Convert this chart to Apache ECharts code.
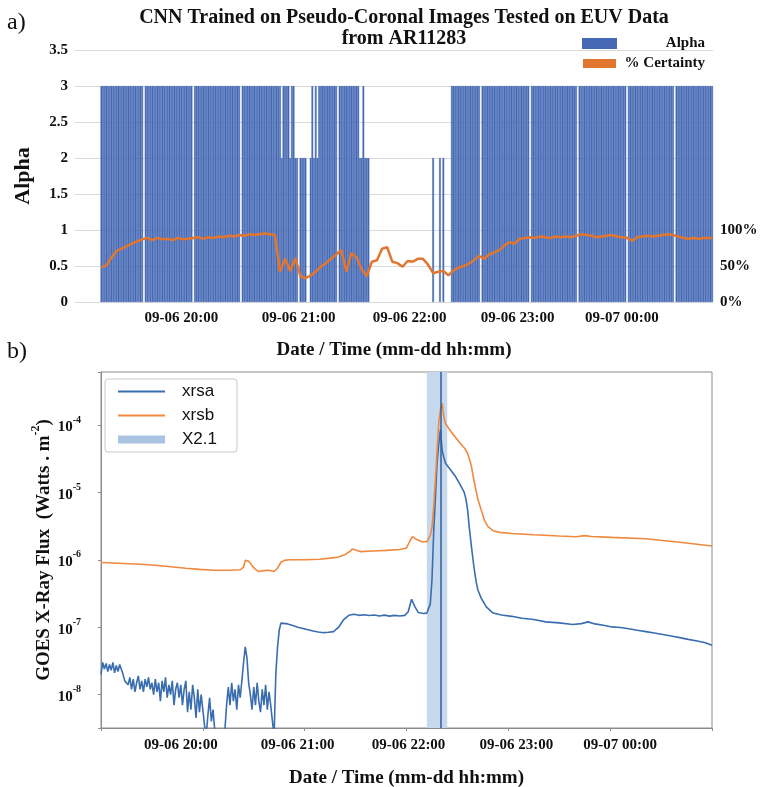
<!DOCTYPE html>
<html><head><meta charset="utf-8">
<script src="https://cdn.jsdelivr.net/npm/echarts@6/dist/echarts.min.js"></script>
<style>html,body{margin:0;padding:0;background:#fff}#c{width:763px;height:787px}</style>
</head><body><div id="c"></div>
<script>
// ---------- shared tick labels (minutes after 09-06 19:00) ----------
const hourTickMinutes = [60, 120, 180, 240, 300];
const hourTickLabels = ['09-06 20:00', '09-06 21:00', '09-06 22:00', '09-06 23:00', '09-07 00:00'];

// ---------- panel a) : one alpha value per minute, 19:00 .. 00:59 ----------
const leadMinutes = 15; // empty categories before the first image (18:45..18:59)
const alphaValues = [
 3,3,3,3,3,3,3,3,3,3, 3,3,3,3,3,3,3,3,3,3, 3,3,3,3,3,0,3,3,3,3,
 3,3,3,3,3,3,3,3,3,3, 3,3,3,3,3,3,3,3,3,3, 3,3,3,3,0,3,3,3,3,3,
 3,3,3,3,3,3,3,3,3,3, 3,3,3,3,3,3,3,3,3,3, 3,3,0,3,3,3,3,3,3,3,
 3,3,3,3,3,3,3,3,3,3, 3,3,3,3,3,3,2,3,3,3, 3,2,3,3,2,2,0,2,2,2,
 2,0,0,2,3,2,3,2,3,3, 3,3,3,3,3,3,3,3,3,0, 3,3,3,3,3,3,3,3,3,3,
 3,3,2,2,3,2,2,2,0,0, 0,0,0,0,0,0,0,0,0,0, 0,0,0,0,0,0,0,0,0,0,
 0,0,0,0,0,0,0,0,0,0, 0,0,0,0,0,2,0,0,0,2, 0,2,0,0,0,0,3,3,3,3,
 3,3,3,3,3,3,3,3,3,3, 3,3,3,0,3,3,3,3,3,3, 3,3,3,3,3,3,3,3,3,3,
 3,3,3,3,3,3,3,3,3,3, 3,3,0,3,3,3,3,3,3,3, 3,3,3,3,3,3,3,3,3,3,
 3,3,3,3,3,3,3,3,3,3, 0,3,3,3,3,3,3,3,3,3, 3,3,3,3,3,3,3,3,3,3,
 3,3,3,3,3,3,3,3,3,0, 3,3,3,3,3,3,3,3,3,3, 3,3,3,3,3,3,3,3,3,3,
 3,3,3,3,3,3,3,0,3,3, 3,3,3,3,3,3,3,3,3,3, 3,3,3,3,3,3,3,3,3,3
];
// % certainty, sampled every 3 minutes from 19:00, last sample at 00:59
const certaintyStep = 3;
const certaintyValues = [
 48,51,62,71,74,78,81,84,87,89,
 86,89,87,88,86,89,87,88,89,90,
 88,90,89,91,90,92,91,93,92,94,
 93,94,95,94,93,42,60,43,61,36,
 33,37,42,49,54,60,66,72,42,68,
 62,45,36,56,58,74,76,56,54,49,
 57,56,60,60,52,40,42,43,37,44,
 48,50,53,58,64,60,66,69,72,79,
 83,81,88,89,90,89,91,90,89,91,
 90,91,90,92,94,93,92,90,91,92,
 93,91,90,89,85,90,91,92,91,92,
 93,94,93,91,89,88,89,88,89,89
];
const certaintyLast = [359, 89];

// ---------- panel b) : GOES fluxes (minutes after 19:00, W m^-2) ----------
const xrsaTime = [
 0,1,2,3,4,5,6,7,8,9,10,11,12,13,14,15,16,17,18,19,20,21,22,23,24,25,26,27,28,29,
 30,31,32,33,34,35,36,37,38,39,40,41,42,43,44,45,46,47,48,49,50,51,52,53,54,55,56,57,58,59,
 60,61,62,63,64,65,66,67,68,69,70,71,72,73,74,75,76,77,78,79,80,81,82,83,84,85,86,87,88,89,
 90,91,92,93,94,95,96,97,98,99,100,101,102,103,104,105,106,107,
 110,113,116,119,122,125,128,131,134,137,140,143,146,149,152,155,158,161,164,167,170,173,176,179,
 181,183,185,187,190,192,194,195,196,197,198,199,200,201,202,203,206,209,212,214,215,216,217,218,219,220,221,222,224,227,
 231,236,242,248,255,262,270,278,283,287,291,296,301,306,311,316,321,326,331,336,341,346,352,356,360
];
const xrsaFlux = [
 2.0e-8,3.0e-8,2.4e-8,2.9e-8,2.2e-8,2.8e-8,2.3e-8,3.0e-8,2.1e-8,2.7e-8,2.2e-8,2.8e-8,2.9e-8,2.0e-8,1.6e-8,1.7e-8,
 1.4e-8,1.8e-8,1.2e-8,1.7e-8,1.1e-8,1.5e-8,1.9e-8,1.2e-8,1.6e-8,1.1e-8,1.7e-8,1.3e-8,1.8e-8,1.2e-8,1.5e-8,
 1.0e-8,1.7e-8,1.1e-8,1.5e-8,0.8e-8,1.6e-8,1.1e-8,1.8e-8,0.9e-8,1.4e-8,1.0e-8,1.6e-8,0.7e-8,1.2e-8,1.5e-8,
 0.9e-8,1.4e-8,0.7e-8,1.2e-8,1.6e-8,0.55e-8,1.1e-8,0.6e-8,1.4e-8,0.9e-8,0.45e-8,1.2e-8,0.55e-8,1.0e-8,
 0.6e-8,0.35e-8,0.25e-8,0.5e-8,0.9e-8,0.4e-8,0.6e-8,0.3e-8,0.2e-8,0.2e-8,0.2e-8,0.2e-8,0.2e-8,0.3e-8,
 0.7e-8,1.3e-8,0.7e-8,1.5e-8,0.8e-8,1.2e-8,0.6e-8,1.4e-8,0.9e-8,1.6e-8,3.0e-8,
 5.1e-8,3.5e-8,1.5e-8,
 1.0e-8,0.6e-8,1.3e-8,0.7e-8,1.5e-8,0.8e-8,0.55e-8,1.2e-8,0.7e-8,1.4e-8,0.6e-8,1.1e-8,0.7e-8,
 0.4e-8,0.25e-8,
 2e-8,5e-8,9e-8,11.5e-8,11.8e-8,
 1.12e-7,1.06e-7,1.0e-7,0.96e-7,0.92e-7,0.88e-7,0.85e-7,0.83e-7,0.84e-7,0.86e-7,1.0e-7,1.3e-7,1.5e-7,1.56e-7,1.5e-7,1.53e-7,1.49e-7,1.52e-7,1.47e-7,1.51e-7,1.46e-7,1.5e-7,1.47e-7,1.5e-7,
 1.7e-7,2.6e-7,2.0e-7,1.65e-7,1.6e-7,1.62e-7,2.2e-7,5e-7,25e-7,80e-7,270e-7,520e-7,850e-7,420e-7,330e-7,270e-7,215e-7,170e-7,125e-7,100e-7,80e-7,55e-7,30e-7,18e-7,11e-7,7e-7,4.8e-7,3.6e-7,2.7e-7,2.0e-7,
 1.62e-7,1.52e-7,1.45e-7,1.36e-7,1.3e-7,1.2e-7,1.16e-7,1.1e-7,1.13e-7,1.2e-7,1.12e-7,1.07e-7,1.01e-7,0.99e-7,0.95e-7,0.9e-7,0.86e-7,0.82e-7,0.78e-7,0.74e-7,0.7e-7,0.66e-7,0.62e-7,0.59e-7,0.54e-7
];
const xrsbTime = [
 0,10,23,32,41,50,58,67,76,82,84,85,86,87,89,91,93,96,99,102,104,106,108,111,120,129,135,140,144,147,148,150,153,160,168,176,
 180,182,183.5,186,189,192,194,195,196,197,198,199,200,201,202,203,205,208,212,214,216,218,220,222,224,226,228,231,235,
 242,255,270,280,285,289,301,321,341,360
];
const xrsbFlux = [
 0.91e-6,0.89e-6,0.86e-6,0.83e-6,0.79e-6,0.75e-6,0.72e-6,0.70e-6,0.70e-6,0.71e-6,0.78e-6,0.98e-6,1.03e-6,0.95e-6,0.82e-6,0.72e-6,0.67e-6,0.69e-6,0.70e-6,0.67e-6,0.75e-6,0.92e-6,0.98e-6,1.0e-6,1.0e-6,1.02e-6,1.06e-6,1.1e-6,1.2e-6,1.35e-6,1.45e-6,1.4e-6,1.32e-6,1.35e-6,1.38e-6,1.42e-6,
 1.5e-6,1.9e-6,2.2e-6,2.0e-6,1.85e-6,1.85e-6,2.3e-6,3.0e-6,6e-6,15e-6,40e-6,107e-6,170e-6,210e-6,130e-6,105e-6,88e-6,70e-6,52e-6,46e-6,38e-6,26e-6,14e-6,8e-6,5.5e-6,3.8e-6,3.1e-6,2.7e-6,2.55e-6,
 2.45e-6,2.35e-6,2.25e-6,2.2e-6,2.28e-6,2.22e-6,2.15e-6,2.05e-6,1.82e-6,1.6e-6
];
// X2.1 flare: start 22:12, peak 22:20, end 22:24
const flareStart = 192, flarePeak = 200, flareEnd = 204;

// ---------- build library inputs ----------
const categories = [];
for (let m = -leadMinutes; m < alphaValues.length; m++) {
  const t = 19 * 60 + m, h = Math.floor(t / 60) % 24, mm = t % 60;
  categories.push(String(h).padStart(2, '0') + ':' + String(mm).padStart(2, '0'));
}
// a zero-height bar draws nothing, so zero minutes are left empty
const alphaData = new Array(leadMinutes).fill('-').concat(alphaValues.map(v => (v === 0 ? '-' : v)));
const certaintyData = certaintyValues.map((v, k) => [k * certaintyStep + leadMinutes, v]);
certaintyData.push([certaintyLast[0] + leadMinutes, certaintyLast[1]]);
const xrsaData = xrsaTime.map((t, i) => [t, xrsaFlux[i]]);
const xrsbData = xrsbTime.map((t, i) => [t, xrsbFlux[i]]);

const SERIF = '"Liberation Serif", "Times New Roman", serif';
const SANS = '"Liberation Sans", Arial, sans-serif';
const labelFont = {fontFamily: SERIF, fontWeight: 'bold', fontSize: 15, color: '#111'};
const shiftRich = {
  s0: Object.assign({padding: [0, 44, 0, 0]}, labelFont),
  s1: Object.assign({padding: [0, 14, 0, 0]}, labelFont),
  s2: Object.assign({padding: [0, 0, 0, 4]}, labelFont),
  s3: Object.assign({padding: [0, 0, 0, 16]}, labelFont),
  s4: Object.assign({padding: [0, 0, 0, 20]}, labelFont)
};
function hourLabel(minute) {
  const k = hourTickMinutes.indexOf(minute);
  return k < 0 ? '' : '{s' + k + '|' + hourTickLabels[k] + '}';
}

const chart = echarts.init(document.getElementById('c'));
chart.setOption({
  animation: false,
  backgroundColor: '#fff',
  title: {
    text: 'CNN Trained on Pseudo-Coronal Images Tested on EUV Data\nfrom AR11283',
    left: 399, top: 2, textAlign: 'center',
    textStyle: {fontFamily: SERIF, fontWeight: 'bold', fontSize: 20, lineHeight: 21, color: '#111'}
  },
  graphic: [
    {type: 'text', left: 7, top: 11, style: {text: 'a)', font: '24px "Liberation Serif"', fill: '#111'}},
    {type: 'text', left: 7, top: 340, style: {text: 'b)', font: '24px "Liberation Serif"', fill: '#111'}}
  ],
  legend: [
    {
      data: [{name: 'Alpha', icon: 'rect'}, {name: '% Certainty', icon: 'rect'}],
      left: 582, top: 36, orient: 'vertical', padding: 0,
      itemWidth: 33, itemHeight: 9, itemGap: 5,
      formatter: n => '{t|' + n + '}',
      textStyle: {rich: {t: {width: 84, align: 'right', fontFamily: SERIF, fontWeight: 'bold', fontSize: 15, lineHeight: 14, color: '#111'}}}
    },
    {
      data: [
        {name: 'xrsa', icon: 'path://M0,0h47v2h-47z'},
        {name: 'xrsb', icon: 'path://M0,0h47v2h-47z'},
        {name: 'X2.1', icon: 'path://M0,0h47v8h-47z'}
      ],
      left: 105, top: 379, orient: 'vertical',
      padding: [4, 20, 4, 13], itemGap: 7, itemWidth: 47, itemHeight: 18,
      borderColor: '#c8c8c8', borderWidth: 1, borderRadius: 3, backgroundColor: '#fff',
      textStyle: {fontFamily: SANS, fontSize: 17, color: '#111', padding: [0, 0, 0, 12]}
    }
  ],
  grid: [
    {left: 75, right: 50, top: 50, bottom: 485, outerBoundsMode: 'none', containLabel: false},
    {left: 101, right: 51, top: 372, bottom: 59, outerBoundsMode: 'none', containLabel: false,
     show: true, borderColor: '#8c8c8c', borderWidth: 1}
  ],
  xAxis: [
    {
      type: 'category', gridIndex: 0, data: categories, boundaryGap: true,
      axisLine: {show: false}, axisTick: {show: false},
      axisLabel: {
        interval: idx => hourTickMinutes.includes(idx - leadMinutes),
        formatter: (v, idx) => hourLabel(idx - leadMinutes),
        rich: shiftRich, margin: 9
      },
      name: 'Date / Time (mm-dd hh:mm)', nameLocation: 'middle', nameGap: 39, nameMoveOverlap: false,
      nameTextStyle: {fontFamily: SERIF, fontWeight: 'bold', fontSize: 19, color: '#111'}
    },
    {
      type: 'value', gridIndex: 1, min: 0, max: 360, interval: 60,
      axisLine: {show: true, lineStyle: {color: '#8c8c8c'}},
      axisTick: {show: true, length: 3, lineStyle: {color: '#8c8c8c'}},
      splitLine: {show: false},
      axisLabel: {formatter: v => hourLabel(v), rich: shiftRich, margin: 10},
      name: 'Date / Time (mm-dd hh:mm)', nameLocation: 'middle', nameGap: 41, nameMoveOverlap: false,
      nameTextStyle: {fontFamily: SERIF, fontWeight: 'bold', fontSize: 19, color: '#111'}
    }
  ],
  yAxis: [
    {
      type: 'value', gridIndex: 0, min: 0, max: 3.5, interval: 0.5,
      axisLine: {show: false}, axisTick: {show: false},
      splitLine: {lineStyle: {color: '#d9d9d9'}},
      axisLabel: Object.assign({margin: 7}, labelFont),
      name: 'Alpha', nameLocation: 'middle', nameGap: 41, nameMoveOverlap: false,
      nameTextStyle: {fontFamily: SERIF, fontWeight: 'bold', fontSize: 22, color: '#111'}
    },
    {
      type: 'value', gridIndex: 0, position: 'right', min: 0, max: 350, interval: 50,
      axisLine: {show: false}, axisTick: {show: false}, splitLine: {show: false},
      axisLabel: Object.assign({margin: 7, formatter: v => (v <= 100 ? v + '%' : '')}, labelFont)
    },
    {
      type: 'log', gridIndex: 1, logBase: 10, min: 3.2e-9, max: 6.1e-4,
      axisLine: {show: true, lineStyle: {color: '#8c8c8c'}},
      axisTick: {show: true, length: 3, lineStyle: {color: '#8c8c8c'}},
      splitLine: {show: false},
      axisLabel: {
        margin: 20,
        formatter: v => {
          const e = Math.log10(v), r = Math.round(e);
          return Math.abs(e - r) > 1e-6 ? '' : '{b|10}{p|' + r + '}';
        },
        rich: {
          b: {fontFamily: SERIF, fontWeight: 'bold', fontSize: 15, lineHeight: 20, verticalAlign: 'bottom', color: '#111'},
          p: {fontFamily: SERIF, fontWeight: 'bold', fontSize: 10, lineHeight: 10, verticalAlign: 'top', color: '#111'}
        }
      },
      name: '{n|GOES X-Ray Flux  (Watts . m}{q|-2}{n|)}', nameLocation: 'middle', nameGap: 47, nameMoveOverlap: false,
      nameTextStyle: {
        rich: {
          n: {fontFamily: SERIF, fontWeight: 'bold', fontSize: 19, lineHeight: 24, verticalAlign: 'bottom', color: '#111'},
          q: {fontFamily: SERIF, fontWeight: 'bold', fontSize: 12, lineHeight: 12, verticalAlign: 'top', color: '#111'}
        }
      }
    }
  ],
  series: [
    {
      name: 'Alpha', type: 'bar', xAxisIndex: 0, yAxisIndex: 0, data: alphaData,
      barCategoryGap: '0%', itemStyle: {color: '#4569b4', borderColor: '#4569b4', borderWidth: 0.5}
    },
    {
      name: '% Certainty', type: 'line', xAxisIndex: 0, yAxisIndex: 1, data: certaintyData,
      symbol: 'none', z: 5, lineStyle: {width: 2.5, color: '#e2762f'}, itemStyle: {color: '#e2762f'}
    },
    {
      name: 'X2.1', type: 'line', xAxisIndex: 1, yAxisIndex: 2, data: [],
      symbol: 'none', lineStyle: {width: 7, color: '#a9c3e3'}, itemStyle: {color: '#a9c3e3'},
      markArea: {silent: true, itemStyle: {color: '#c5d8ec'}, data: [[{xAxis: flareStart}, {xAxis: flareEnd}]]},
      markLine: {silent: true, symbol: 'none', label: {show: false},
        lineStyle: {color: '#2f5f9c', width: 1.5, type: 'solid'}, data: [{xAxis: flarePeak}]}
    },
    {
      name: 'xrsa', type: 'line', xAxisIndex: 1, yAxisIndex: 2, data: xrsaData,
      symbol: 'none', clip: true, lineStyle: {width: 1.6, color: '#3a6db0'}, itemStyle: {color: '#3a6db0'}
    },
    {
      name: 'xrsb', type: 'line', xAxisIndex: 1, yAxisIndex: 2, data: xrsbData,
      symbol: 'none', clip: true, lineStyle: {width: 1.6, color: '#f0893e'}, itemStyle: {color: '#f0893e'}
    }
  ]
});
</script>
</body></html>
